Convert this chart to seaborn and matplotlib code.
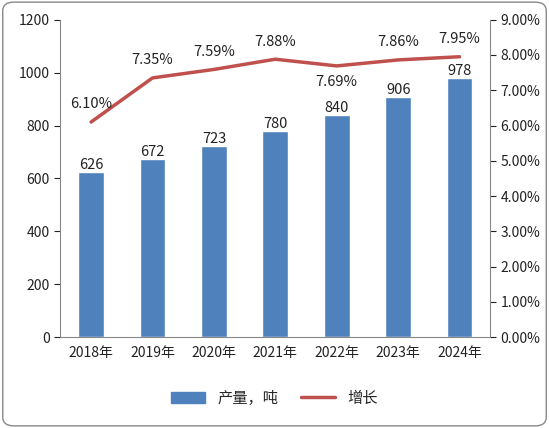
import seaborn as sns
import matplotlib.pyplot as plt
import pandas as pd
from matplotlib.patches import FancyBboxPatch
from matplotlib.lines import Line2D
from matplotlib.patches import Patch

years = ["2018年", "2019年", "2020年", "2021年", "2022年", "2023年", "2024年"]
output = [626, 672, 723, 780, 840, 906, 978]
growth = [6.10, 7.35, 7.59, 7.88, 7.69, 7.86, 7.95]

sns.set_style("white")
plt.rcParams['font.family'] = ['Noto Sans CJK SC', 'DejaVu Sans']

df = pd.DataFrame({"year": years, "output": output, "growth": growth})

fig = plt.figure(figsize=(5.49, 4.28), dpi=100)
fig.patches.append(FancyBboxPatch((0.005, 0.005), 0.99, 0.99, boxstyle="round,pad=0,rounding_size=0.02",
                                  transform=fig.transFigure, fill=False, edgecolor="#888888", lw=1))
ax = fig.add_axes([0.11, 0.212, 0.783, 0.742])
sns.barplot(data=df, x="year", y="output", color="#4F81BD", width=0.42, saturation=1, ax=ax)
ax.set_ylim(0, 1200)
ax.set_yticks(range(0, 1201, 200))
ax.set_xlabel("")
ax.set_ylabel("")
for i, v in enumerate(output):
    ax.text(i, v, str(v), ha="center", va="bottom", fontsize=10.5, color="#222222")

ax2 = ax.twinx()
sns.lineplot(x=list(range(len(years))), y=growth, color="#C0504D", lw=2.5, ax=ax2)
ax2.set_ylim(0, 9)
ax2.set_yticks(range(0, 10))
ax2.set_yticklabels([f"{v:.2f}%" for v in range(0, 10)])
for i, v in enumerate(growth):
    if i == 4:
        ax2.text(i, v - 0.25, f"{v:.2f}%", ha="center", va="top", fontsize=10.5, color="#222222")
    else:
        ax2.text(i, v + 0.3, f"{v:.2f}%", ha="center", va="bottom", fontsize=10.5, color="#222222")
ax.set_xlim(-0.5, len(years) - 0.5)

for a in (ax, ax2):
    for s in a.spines.values():
        s.set_visible(False)
    a.tick_params(labelsize=10, colors="#222222", length=4)
ax.spines["left"].set_visible(True)
ax.spines["bottom"].set_visible(True)
ax2.spines["right"].set_visible(True)
for s in (ax.spines["left"], ax.spines["bottom"], ax2.spines["right"]):
    s.set_color("#888888")
ax.tick_params(axis="x", length=0, pad=6)

fig.legend(handles=[Patch(color="#4F81BD", label="产量，吨"),
                    Line2D([], [], color="#C0504D", lw=2.5, label="增长")],
           loc="center", bbox_to_anchor=(0.5, 0.07), ncol=2, frameon=False,
           fontsize=11, handlelength=2.2, columnspacing=1.5)
fig.savefig("out.png", dpi=100)
